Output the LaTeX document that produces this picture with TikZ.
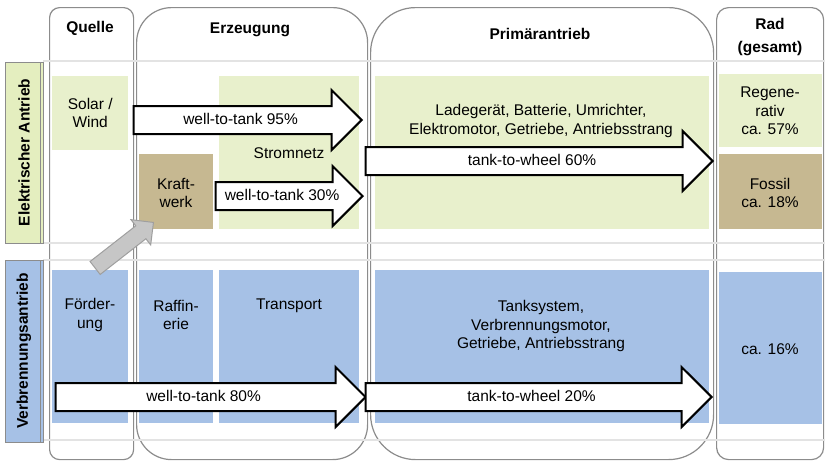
\documentclass[tikz,border=0pt]{standalone}
\usepackage{fontspec}
\setmainfont{Liberation Sans}
\usetikzlibrary{shapes.arrows}
\definecolor{hellgruen}{HTML}{E8F0CC}
\definecolor{seitengruen}{HTML}{E4EEBF}
\definecolor{braun}{HTML}{C6B891}
\definecolor{blau}{HTML}{A6C1E6}
\definecolor{rahmen}{HTML}{8C8C8C}
\begin{document}
\begin{tikzpicture}[x=1pt,y=-1pt,font=\fontsize{15.5}{18.5}\selectfont,
  spalte/.style={draw=rahmen,line width=1.2pt,fill=white,anchor=north west,inner sep=0pt},
  kopf/.style={font=\fontsize{15.5}{23}\selectfont\bfseries,align=center},
  feld/.style={anchor=north west,inner sep=0pt,align=center},
  seite/.style={draw=rahmen,line width=1pt,rotate=90,inner sep=0pt,minimum height=38pt,
    font=\fontsize{15.5}{18.5}\selectfont\bfseries},
  pfeil/.style={single arrow,draw=black,line width=2pt,fill=white,anchor=tip,
    minimum width=58pt,single arrow head extend=16pt,inner xsep=0pt,inner ysep=0pt,
    text height=17pt,text depth=9pt},
  band/.style={gray!22,line width=1.5pt}]
\useasboundingbox (0,0) rectangle (825,461);
% Spalten
\node[spalte,rounded corners=10pt,minimum width=84pt,minimum height=452pt] (quelle) at (49,7) {};
\node[spalte,rounded corners=35pt,minimum width=231pt,minimum height=452pt] (erzeugung) at (136,7) {};
\node[spalte,rounded corners=45pt,minimum width=343pt,minimum height=452pt] (primaer) at (370,7) {};
\node[spalte,rounded corners=12pt,minimum width=107pt,minimum height=452pt] (rad) at (716,7) {};
\node[kopf] (t_quelle) at (90,28) {Quelle};
\node[kopf] (t_erzeugung) at (250,30) {Erzeugung};
\node[kopf] (t_primaer) at (540,34) {Primärantrieb};
\node[kopf] (t_rad) at (770,37) {Rad\\(gesamt)};
% Baender
\foreach \y in {61,243,260,440}
  \draw[band] (43,\y) -- (825,\y);
\node[seite,fill=seitengruen,minimum width=181pt] (elektrisch) at (24,152.5) {Elektrischer Antrieb};
\draw[rahmen] (40,62) -- (40,243);
\node[seite,fill=blau,minimum width=182pt] (verbrennung) at (24,351) {Verbrennungsantrieb};
\draw[rahmen] (40,260) -- (40,442);
% elektrisch
\node[feld,fill=hellgruen,minimum width=76pt,minimum height=74pt] (solar) at (52,76) {};
\node (t_solar) at (solar.center) [align=center] {Solar /\\Wind};
\node[feld,fill=braun,minimum width=74pt,minimum height=75pt] (kraftwerk) at (139,154) {};
\node (t_kraftwerk) at (176,193) [align=center] {Kraft-\\werk};
\node[feld,fill=hellgruen,minimum width=140pt,minimum height=153pt] (stromnetz) at (219,76) {};
\node (t_stromnetz) at (289,153) {Stromnetz};
\node[feld,fill=hellgruen,minimum width=334pt,minimum height=153pt] (lader) at (375,76) {};
\node (t_lader) at (541,121) [align=center] {Ladegerät, Batterie, Umrichter,\\Elektromotor, Getriebe, Antriebsstrang};
\node[feld,fill=hellgruen,minimum width=103pt,minimum height=73pt] (regenerativ) at (719,74) {};
\node (t_regenerativ) at (770,111) [align=center] {Regene-\\rativ\\ca. 57\%};
\node[feld,fill=braun,minimum width=103pt,minimum height=75pt] (fossil) at (719,154) {};
\node (t_fossil) at (770,193) [align=center] {Fossil\\ca. 18\%};
% Verbrennung
\node[feld,fill=blau,minimum width=76pt,minimum height=153pt] (foerderung) at (52,270) {};
\node (t_foerderung) at (90,315) [align=center] {Förder-\\ung};
\node[feld,fill=blau,minimum width=74pt,minimum height=153pt] (raffinerie) at (139,270) {};
\node (t_raffinerie) at (176,315) [align=center] {Raffin-\\erie};
\node[feld,fill=blau,minimum width=140pt,minimum height=153pt] (transport) at (219,270) {};
\node (t_transport) at (289,306) {Transport};
\node[feld,fill=blau,minimum width=334pt,minimum height=153pt] (tank) at (375,270) {};
\node (t_tank) at (541,326) [align=center] {Tanksystem,\\Verbrennungsmotor,\\Getriebe, Antriebsstrang};
\node[feld,fill=blau,minimum width=103pt,minimum height=152pt] (gesamt) at (719,272) {};
\node (t_gesamt) at (770,349) {ca. 16\%};
% Pfeile
\node[pfeil,minimum height=228pt] (wtt95) at (363,120) {well-to-tank 95\%};
\node[pfeil,minimum height=147pt] (wtt30) at (364,196) {well-to-tank 30\%};
\node[pfeil,minimum height=347pt] (ttw60) at (714,161) {tank-to-wheel 60\%};
\node[pfeil,minimum height=310pt] (wtt80) at (367,397) {well-to-tank 80\%};
\node[pfeil,minimum height=346pt] (ttw20) at (713,397) {tank-to-wheel 20\%};
\node[single arrow,draw=gray!75,fill=gray!45,line width=1pt,rotate=38,anchor=tip,
  minimum height=74pt,minimum width=32pt,inner sep=7pt] (fossilweg) at (154,222) {};
\end{tikzpicture}
\end{document}
